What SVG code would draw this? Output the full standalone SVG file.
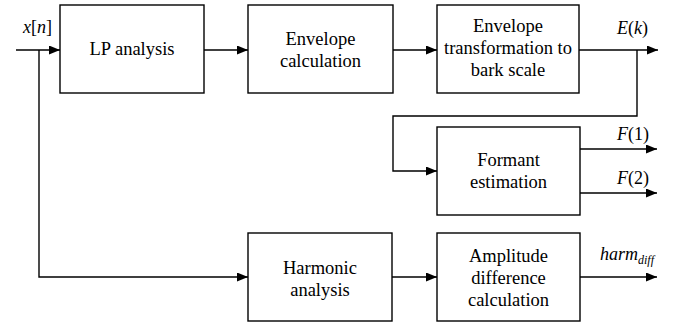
<svg xmlns="http://www.w3.org/2000/svg" width="688" height="324" viewBox="0 0 688 324">
<style>
.box{fill:#fff;stroke:#000;stroke-width:1.4}
text{font-family:'Liberation Serif','Times New Roman',Times,serif;fill:#000}
.t{font-size:18.5px;text-anchor:middle}
.l{font-size:18px}
.i{font-style:italic}
.w{fill:none;stroke:#000;stroke-width:1.4}
</style>
<defs>
<marker id="ah" markerWidth="11" markerHeight="9" refX="11" refY="4.5" orient="auto" markerUnits="userSpaceOnUse">
<path d="M0,0 L11,4.5 L0,9 Z" fill="#000"/>
</marker>
</defs>
<g id="connectors">
<path class="w" d="M16,50 H60" marker-end="url(#ah)"/>
<path class="w" d="M39,50 V277 H248" marker-end="url(#ah)"/>
<path class="w" d="M204,50 H248" marker-end="url(#ah)"/>
<path class="w" d="M393,50 H437" marker-end="url(#ah)"/>
<path class="w" d="M579,50 H658" marker-end="url(#ah)"/>
<path class="w" d="M637,50 V116 H393 V171 H437" marker-end="url(#ah)"/>
<path class="w" d="M580,149 H657" marker-end="url(#ah)"/>
<path class="w" d="M580,193 H657" marker-end="url(#ah)"/>
<path class="w" d="M392,277 H437" marker-end="url(#ah)"/>
<path class="w" d="M580,277 H657" marker-end="url(#ah)"/>
</g>
<g id="lp">
<rect class="box" x="60" y="5" width="144" height="88"/>
<text class="t" x="132" y="55">LP analysis</text>
</g>
<g id="envcalc">
<rect class="box" x="248" y="5" width="145" height="88"/>
<text class="t" x="320.5" y="45">Envelope</text>
<text class="t" x="320.5" y="67">calculation</text>
</g>
<g id="envbark">
<rect class="box" x="437" y="5" width="142" height="88"/>
<text class="t" x="508" y="32">Envelope</text>
<text class="t" x="508" y="54">transformation to</text>
<text class="t" x="508" y="76">bark scale</text>
</g>
<g id="formant">
<rect class="box" x="437" y="127" width="143" height="88"/>
<text class="t" x="508.5" y="166">Formant</text>
<text class="t" x="508.5" y="188">estimation</text>
</g>
<g id="harmonic">
<rect class="box" x="248" y="233" width="144" height="88"/>
<text class="t" x="320" y="274">Harmonic</text>
<text class="t" x="320" y="296">analysis</text>
</g>
<g id="amplitude">
<rect class="box" x="437" y="233" width="143" height="88"/>
<text class="t" x="508.5" y="262">Amplitude</text>
<text class="t" x="508.5" y="284">difference</text>
<text class="t" x="508.5" y="306">calculation</text>
</g>
<g id="labels">
<text class="l" x="23" y="33"><tspan class="i">x</tspan>[<tspan class="i">n</tspan>]</text>
<text class="l" x="617" y="34"><tspan class="i">E</tspan>(<tspan class="i">k</tspan>)</text>
<text class="l" x="617" y="140"><tspan class="i">F</tspan>(1)</text>
<text class="l" x="617" y="184"><tspan class="i">F</tspan>(2)</text>
<text class="l" x="600" y="260"><tspan class="i">harm</tspan><tspan class="i" font-size="12" dy="4">diff</tspan></text>
</g>
</svg>
